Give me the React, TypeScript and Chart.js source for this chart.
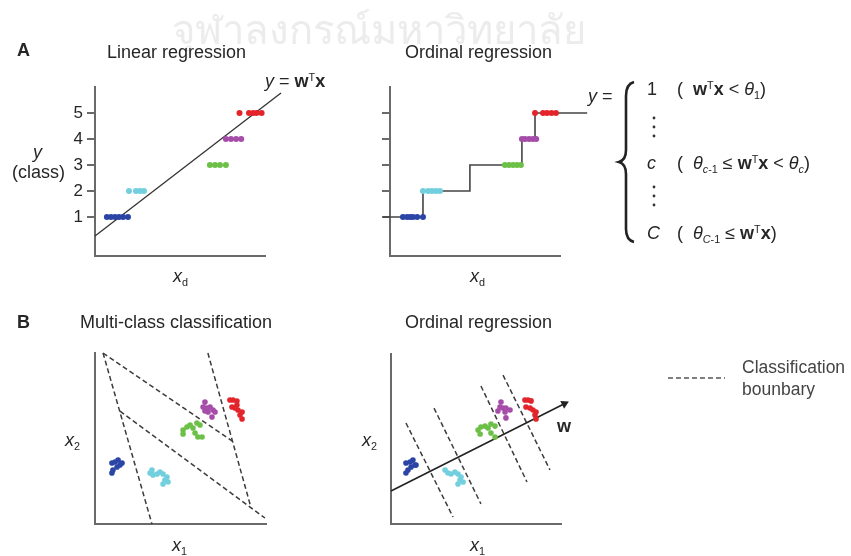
import React, { useEffect, useRef } from 'react';
import { Chart, registerables } from 'chart.js';

Chart.register(...registerables);

// ---------------- Data ----------------
const classTicks = [1, 2, 3, 4, 5];

// A – Linear regression: x_d positions of the samples of each class
const linClass1 = [0.7, 0.94, 1.18, 1.41, 1.65, 1.94];
const linClass2 = [2.0, 2.41, 2.65, 2.88];
const linClass3 = [6.76, 7.06, 7.35, 7.7];
const linClass4 = [7.7, 8.0, 8.3, 8.6];
const linClass5 = [8.5, 9.06, 9.3, 9.5, 9.8];
const linFitX = [0, 10.94];
const linFitY = [0.27, 5.77];

// A – Ordinal regression
const ordClass1 = [0.76, 1.0, 1.18, 1.35, 1.6, 1.94];
const ordClass2 = [1.94, 2.24, 2.47, 2.7, 2.94];
const ordClass3 = [6.76, 7.0, 7.24, 7.47, 7.7];
const ordClass4 = [7.76, 7.94, 8.18, 8.4, 8.6];
const ordClass5 = [8.53, 9.0, 9.24, 9.5, 9.76];
const stepEdges = [-0.41, 1.94, 4.7, 7.76, 8.53, 11.6];
const stepLevels = [1, 2, 3, 4, 5, 5];

// B – Multi-class classification (x1, x2)
const mcClass1 = [[0.99, 3.57], [1.17, 3.63], [1.35, 3.74], [1.46, 3.45], [1.29, 3.33], [1.05, 3.16], [0.99, 2.98], [1.58, 3.57]];
const mcClass2 = [[3.22, 2.98], [3.39, 2.87], [3.63, 2.92], [3.8, 3.04], [3.98, 2.92], [4.21, 2.75], [4.09, 2.57], [4.27, 2.46], [3.98, 2.34], [3.33, 3.16]];
const mcClass3 = [[5.15, 5.5], [5.38, 5.67], [5.56, 5.79], [5.73, 5.61], [5.96, 5.91], [6.14, 5.79], [5.85, 5.32], [6.02, 5.09], [6.26, 5.09], [5.15, 5.26]];
const mcClass4 = [[6.43, 7.13], [6.32, 6.84], [6.55, 6.78], [6.73, 6.84], [6.9, 6.67], [6.61, 6.55], [6.84, 6.26], [7.02, 6.55], [6.43, 6.61]];
const mcClass5 = [[7.89, 7.25], [8.07, 7.25], [8.3, 7.19], [8.01, 6.84], [8.19, 6.78], [8.36, 6.67], [8.6, 6.55], [8.48, 6.37], [8.6, 6.14], [8.3, 6.96]];
const mcBoundary1 = [[0.47, 10], [3.33, 0]];
const mcBoundary2 = [[0.47, 10], [8.07, 4.82]];
const mcBoundary3 = [[6.6, 10], [9.12, 0.97]];
const mcBoundary4 = [[1.46, 6.6], [9.94, 0.35]];

// B – Ordinal regression (x1, x2)
const orClass1 = [[0.88, 3.59], [1.12, 3.65], [1.29, 3.76], [1.41, 3.47], [1.18, 3.35], [1.0, 3.18], [0.88, 3.0], [1.47, 3.47]];
const orClass2 = [[3.18, 3.18], [3.35, 3.0], [3.53, 2.94], [3.76, 3.06], [3.94, 2.94], [4.12, 2.76], [4.06, 2.59], [4.24, 2.47], [3.94, 2.35]];
const orClass3 = [[5.12, 5.53], [5.29, 5.71], [5.53, 5.76], [5.71, 5.65], [5.88, 5.88], [6.12, 5.76], [5.88, 5.35], [6.12, 5.12], [5.24, 5.29]];
const orClass4 = [[6.47, 7.18], [6.41, 6.88], [6.59, 6.82], [6.76, 6.82], [7.0, 6.71], [6.71, 6.59], [6.76, 6.24], [6.29, 6.65]];
const orClass5 = [[7.88, 7.29], [8.06, 7.29], [8.24, 7.24], [7.94, 6.88], [8.18, 6.82], [8.35, 6.71], [8.53, 6.59], [8.47, 6.41], [8.53, 6.18]];
const orBoundary1 = [[0.88, 5.94], [3.65, 0.41]];
const orBoundary2 = [[2.53, 6.82], [5.29, 1.18]];
const orBoundary3 = [[5.29, 8.12], [8.0, 2.47]];
const orBoundary4 = [[6.59, 8.76], [9.35, 3.18]];
const wAxis = [[0, 1.94], [10.2, 7.07]];

// ---------------- Styles ----------------
const FONT = '"Liberation Sans", Arial, Helvetica, sans-serif';
const INK = '#262626';
const AXIS = '#6a6a6a';
const DASH = '#3c3c3c';
const CLASS_COLORS = ['#2b45a6', '#72cfdd', '#6cc047', '#a64da9', '#e3252b'];

type Frame = { left: number; top: number; width: number; height: number; yWidth: number; xHeight: number; padRight: number; padTop: number };

const frameA1: Frame = { left: 0, top: 60, width: 300, height: 220, yWidth: 95, xHeight: 24, padRight: 35, padTop: 27 };
const frameA2: Frame = { left: 300, top: 60, width: 300, height: 220, yWidth: 90, xHeight: 24, padRight: 40, padTop: 27 };
const frameB1: Frame = { left: 0, top: 330, width: 300, height: 215, yWidth: 95, xHeight: 21, padRight: 34, padTop: 23 };
const frameB2: Frame = { left: 300, top: 330, width: 300, height: 215, yWidth: 91, xHeight: 21, padRight: 39, padTop: 24 };

const onLevel = (xs: number[], y: number) => xs.map((x) => ({ x, y }));
const pairs = (p: number[][]) => p.map(([x, y]) => ({ x, y }));
const zipXY = (xs: number[], ys: number[]) => xs.map((x, i) => ({ x, y: ys[i] }));

function pointSet(data: any[], color: string, r = 2.8) {
  return { data, backgroundColor: color, borderColor: color, borderWidth: 0, pointRadius: r, pointHoverRadius: r, showLine: false, clip: false };
}
function lineSet(data: any[], color: string, width: number, dash: number[] = [], extra: any = {}) {
  return { data, borderColor: color, backgroundColor: color, borderWidth: width, borderDash: dash, pointRadius: 0, pointHoverRadius: 0, showLine: true, clip: false, fill: false, tension: 0, ...extra };
}

function makeOptions(frame: Frame, xMin: number, xMax: number, yMin: number, yMax: number, yTicks: number[], tickLabels: boolean) {
  return {
    responsive: false,
    maintainAspectRatio: false,
    animation: false,
    devicePixelRatio: 1,
    events: [],
    layout: { autoPadding: false, padding: { left: 0, top: frame.padTop, right: frame.padRight, bottom: 0 } },
    plugins: { legend: { display: false }, tooltip: { enabled: false }, title: { display: false } },
    scales: {
      x: {
        type: 'linear', min: xMin, max: xMax, position: 'bottom',
        grid: { display: false },
        ticks: { display: false },
        border: { display: true, color: AXIS, width: 2 },
        afterFit: (s: any) => { s.height = frame.xHeight; },
      },
      y: {
        type: 'linear', min: yMin, max: yMax, position: 'left',
        grid: { display: yTicks.length > 0, drawOnChartArea: false, drawTicks: true, tickLength: 8, color: AXIS, lineWidth: 2 },
        ticks: { display: true, padding: 4, color: INK, font: { family: FONT, size: 17 }, callback: (v: any) => (tickLabels ? String(v) : '') },
        afterBuildTicks: (s: any) => { s.ticks = yTicks.map((v) => ({ value: v })); },
        border: { display: true, color: AXIS, width: 2 },
        afterFit: (s: any) => { s.width = frame.yWidth; },
      },
    },
  };
}

function buildA1() {
  return {
    type: 'scatter',
    data: {
      datasets: [
        pointSet(onLevel(linClass1, 1), CLASS_COLORS[0], 3),
        pointSet(onLevel(linClass2, 2), CLASS_COLORS[1], 3),
        pointSet(onLevel(linClass3, 3), CLASS_COLORS[2], 3),
        pointSet(onLevel(linClass4, 4), CLASS_COLORS[3], 3),
        pointSet(onLevel(linClass5, 5), CLASS_COLORS[4], 3),
        lineSet(zipXY(linFitX, linFitY), '#333333', 1.3),
      ],
    },
    options: makeOptions(frameA1, 0, 10, -0.5, 6, classTicks, true),
  };
}

function buildA2() {
  return {
    type: 'scatter',
    data: {
      datasets: [
        pointSet(onLevel(ordClass1, 1), CLASS_COLORS[0], 3),
        pointSet(onLevel(ordClass2, 2), CLASS_COLORS[1], 3),
        pointSet(onLevel(ordClass3, 3), CLASS_COLORS[2], 3),
        pointSet(onLevel(ordClass4, 4), CLASS_COLORS[3], 3),
        pointSet(onLevel(ordClass5, 5), CLASS_COLORS[4], 3),
        lineSet(zipXY(stepEdges, stepLevels), '#444444', 1.6, [], { stepped: 'before' }),
      ],
    },
    options: makeOptions(frameA2, 0, 10, -0.5, 6, classTicks, false),
  };
}

function clusterSets(c: number[][][]) {
  return c.map((cl, i) => pointSet(pairs(cl), CLASS_COLORS[i], 2.8));
}

function buildB1() {
  return {
    type: 'scatter',
    data: {
      datasets: [
        ...clusterSets([mcClass1, mcClass2, mcClass3, mcClass4, mcClass5]),
        ...[mcBoundary1, mcBoundary2, mcBoundary3, mcBoundary4].map((b) => lineSet(pairs(b), DASH, 1.5, [5, 3])),
      ],
    },
    options: makeOptions(frameB1, 0, 10, 0, 10, [], false),
  };
}

function buildB2() {
  const last = wAxis.length - 1;
  return {
    type: 'scatter',
    data: {
      datasets: [
        ...clusterSets([orClass1, orClass2, orClass3, orClass4, orClass5]),
        lineSet(pairs(wAxis), '#222222', 1.6, [], {
          pointStyle: 'triangle',
          pointBackgroundColor: '#222222',
          pointBorderWidth: 0,
          pointRadius: (ctx: any) => (ctx.dataIndex === last ? 5 : 0),
          rotation: (ctx: any) => {
            const xs = ctx.chart.scales.x;
            const ys = ctx.chart.scales.y;
            const dx = xs.getPixelForValue(wAxis[last][0]) - xs.getPixelForValue(wAxis[0][0]);
            const dy = ys.getPixelForValue(wAxis[last][1]) - ys.getPixelForValue(wAxis[0][1]);
            return (Math.atan2(dy, dx) * 180) / Math.PI + 90;
          },
        }),
        ...[orBoundary1, orBoundary2, orBoundary3, orBoundary4].map((b) => lineSet(pairs(b), DASH, 1.5, [5, 3])),
      ],
    },
    options: makeOptions(frameB2, 0, 10, 0, 10, [], false),
  };
}

function ChartCanvas({ frame, build }: { frame: Frame; build: () => any }) {
  const ref = useRef<HTMLCanvasElement>(null);
  useEffect(() => {
    const chart = new Chart(ref.current as HTMLCanvasElement, build());
    return () => chart.destroy();
  }, []);
  return (
    <canvas
      ref={ref}
      width={frame.width}
      height={frame.height}
      style={{ position: 'absolute', left: frame.left, top: frame.top, width: frame.width, height: frame.height }}
    />
  );
}

function T({ x, y, size = 18, bold = false, italic = false, color = INK, children }: any) {
  return (
    <div
      style={{
        position: 'absolute', left: x, top: y, transform: 'translateY(-50%)',
        fontFamily: FONT, fontSize: size, fontWeight: bold ? 'bold' : 'normal',
        fontStyle: italic ? 'italic' : 'normal', color, whiteSpace: 'pre', lineHeight: 1, zIndex: 2,
      }}
    >
      {children}
    </div>
  );
}
const Sup = ({ children }: any) => <span style={{ fontSize: '0.6em', position: 'relative', top: '-0.6em', fontWeight: 'normal' }}>{children}</span>;
const Sub = ({ children }: any) => <span style={{ fontSize: '0.6em', position: 'relative', top: '0.35em', fontStyle: 'normal' }}>{children}</span>;
const WTX = () => (<><b>w</b><Sup>T</Sup><b>x</b></>);

export default function App() {
  return (
    <div style={{ position: 'absolute', left: 0, top: 0, width: 851, height: 556, background: '#ffffff', overflow: 'hidden' }}>
      <T x={172} y={30} size={40} color="#ececec">จุฬาลงกรณ์มหาวิทยาลัย</T>

      <ChartCanvas frame={frameA1} build={buildA1} />
      <ChartCanvas frame={frameA2} build={buildA2} />
      <ChartCanvas frame={frameB1} build={buildB1} />
      <ChartCanvas frame={frameB2} build={buildB2} />

      {/* Panel A */}
      <T x={17} y={50} bold>A</T>
      <T x={107} y={52}>Linear regression</T>
      <T x={405} y={52}>Ordinal regression</T>
      <T x={265} y={81}><i>y</i> = <WTX /></T>
      <T x={33} y={152} italic>y</T>
      <T x={12} y={172}>(class)</T>
      <T x={173} y={276} italic>x<Sub>d</Sub></T>
      <T x={470} y={276} italic>x<Sub>d</Sub></T>

      {/* equation */}
      <T x={588} y={96}><i>y</i> =</T>
      <svg width={851} height={556} style={{ position: 'absolute', left: 0, top: 0, zIndex: 1 }}>
        <path d="M 634 82 Q 626 84 626 96 L 626 150 Q 626 160 619 162 Q 626 164 626 174 L 626 229 Q 626 240 634 242" stroke="#222" strokeWidth={2.6} fill="none" />
        {[118, 127, 136, 187, 196, 205].map((yy, i) => (
          <circle key={i} cx={654} cy={yy} r={1.4} fill="#333" />
        ))}
        <line x1={668} y1={378} x2={725} y2={378} stroke="#555" strokeWidth={1.5} strokeDasharray="5 3" />
      </svg>
      <T x={647} y={89}>1</T>
      <T x={677} y={89}>(  <WTX /> &lt; <i>θ</i><Sub>1</Sub>)</T>
      <T x={647} y={163} italic>c</T>
      <T x={677} y={163}>(  <i>θ</i><Sub><i>c</i>-1</Sub> ≤ <WTX /> &lt; <i>θ</i><Sub><i>c</i></Sub>)</T>
      <T x={647} y={233} italic>C</T>
      <T x={677} y={233}>(  <i>θ</i><Sub><i>C</i>-1</Sub> ≤ <WTX />)</T>

      {/* Panel B */}
      <T x={17} y={322} bold>B</T>
      <T x={80} y={322}>Multi-class classification</T>
      <T x={405} y={322}>Ordinal regression</T>
      <T x={65} y={440} italic>x<Sub>2</Sub></T>
      <T x={172} y={545} italic>x<Sub>1</Sub></T>
      <T x={362} y={440} italic>x<Sub>2</Sub></T>
      <T x={470} y={545} italic>x<Sub>1</Sub></T>
      <T x={557} y={426} bold>w</T>

      {/* legend */}
      <T x={742} y={368} size={17.5} color="#444">Classification</T>
      <T x={742} y={390} size={17.5} color="#444">bounbary</T>
    </div>
  );
}
